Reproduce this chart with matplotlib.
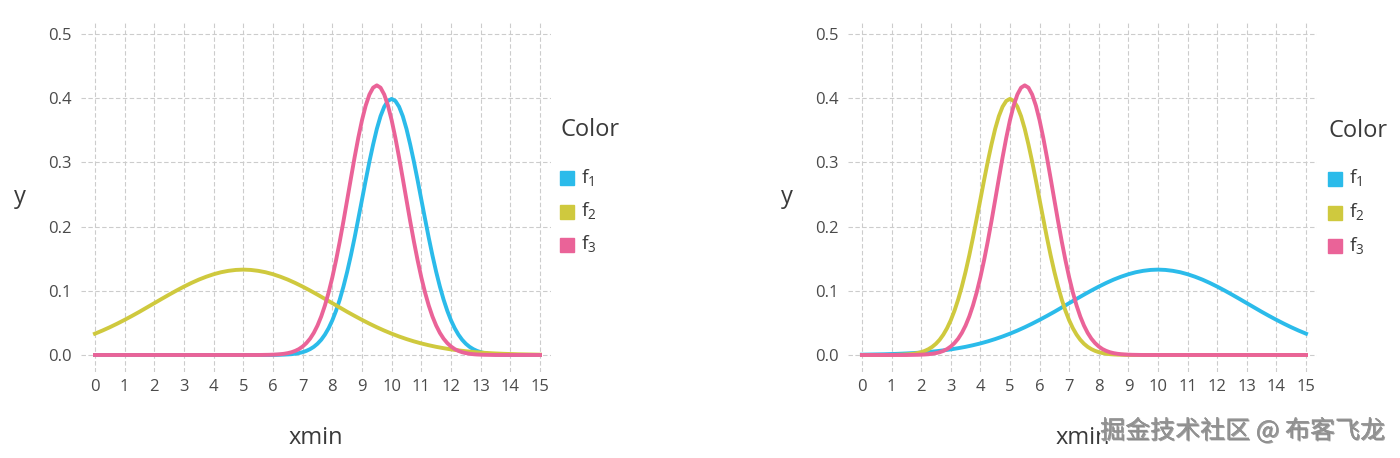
import numpy as np
import matplotlib
matplotlib.use('Agg')
import matplotlib.pyplot as plt
from matplotlib.patches import Rectangle
import matplotlib.patheffects as pe

# sample grids: coarse (0.25 step) for the wide curves, fine (0.125 step) for the narrow ones
x = np.linspace(0, 15, 61)
xf = np.linspace(0, 15, 121)

# left panel
left_f1 = [0]*48 + [.0001, .0002, .0004, .0006, .0009, .0013, .0020, .0030, .0044, .0064, .0091, .0127,
                    .0175, .0237, .0317, .0417, .0540, .0688, .0863, .1066, .1295, .1550, .1826, .2121,
                    .2420, .2721, .3011, .3278, .3521, .3720, .3867, .3958, .3989, .3958, .3867, .3720,
                    .3521, .3278, .3011, .2721, .2420, .2121, .1826, .1550, .1295, .1066, .0863, .0688,
                    .0540, .0417, .0317, .0237, .0175, .0127, .0091, .0064, .0044, .0030, .0020, .0013,
                    .0009, .0006, .0004, .0002, .0001] + [0]*8
left_f2 = [.0332, .0380, .0432, .0488, .0547, .0609, .0673, .0740, .0807, .0874, .0940, .1004, .1065, .1122,
           .1174, .1219, .1258, .1289, .1311, .1325, .1330, .1325, .1311, .1289, .1258, .1219, .1174, .1122,
           .1065, .1004, .0940, .0874, .0807, .0740, .0673, .0609, .0547, .0488, .0432, .0380, .0332, .0288,
           .0248, .0212, .0180, .0152, .0127, .0106, .0087, .0072, .0058, .0047, .0038, .0030, .0024, .0019,
           .0015, .0011, .0009, .0007, .0005]
left_f3 = [0]*45 + [.0001, .0002, .0003, .0005, .0008, .0012, .0019, .0029, .0043, .0064, .0092, .0132,
                    .0185, .0254, .0344, .0458, .0599, .0770, .0973, .1208, .1474, .1767, .2083, .2414,
                    .2748, .3076, .3383, .3657, .3885, .4057, .4164, .4200, .4164, .4057, .3885, .3657,
                    .3383, .3076, .2748, .2414, .2083, .1767, .1474, .1208, .0973, .0770, .0599, .0458,
                    .0344, .0254, .0185, .0132, .0092, .0064, .0043, .0029, .0019, .0012, .0008, .0005,
                    .0003, .0002, .0001] + [0]*13

# right panel
right_f1 = [.0005, .0007, .0009, .0011, .0015, .0019, .0024, .0030, .0038, .0047, .0058, .0072, .0087, .0106,
            .0127, .0152, .0180, .0212, .0248, .0288, .0332, .0380, .0432, .0488, .0547, .0609, .0673, .0740,
            .0807, .0874, .0940, .1004, .1065, .1122, .1174, .1219, .1258, .1289, .1311, .1325, .1330, .1325,
            .1311, .1289, .1258, .1219, .1174, .1122, .1065, .1004, .0940, .0874, .0807, .0740, .0673, .0609,
            .0547, .0488, .0432, .0380, .0332]
right_f2 = [0]*8 + [.0001, .0002, .0004, .0006, .0009, .0013, .0020, .0030, .0044, .0064, .0091, .0127,
                    .0175, .0237, .0317, .0417, .0540, .0688, .0863, .1066, .1295, .1550, .1826, .2121,
                    .2420, .2721, .3011, .3278, .3521, .3720, .3867, .3958, .3989, .3958, .3867, .3720,
                    .3521, .3278, .3011, .2721, .2420, .2121, .1826, .1550, .1295, .1066, .0863, .0688,
                    .0540, .0417, .0317, .0237, .0175, .0127, .0091, .0064, .0044, .0030, .0020, .0013,
                    .0009, .0006, .0004, .0002, .0001] + [0]*48
right_f3 = [0]*13 + [.0001, .0002, .0003, .0005, .0008, .0012, .0019, .0029, .0043, .0064, .0092, .0132,
                     .0185, .0254, .0344, .0458, .0599, .0770, .0973, .1208, .1474, .1767, .2083, .2414,
                     .2748, .3076, .3383, .3657, .3885, .4057, .4164, .4200, .4164, .4057, .3885, .3657,
                     .3383, .3076, .2748, .2414, .2083, .1767, .1474, .1208, .0973, .0770, .0599, .0458,
                     .0344, .0254, .0185, .0132, .0092, .0064, .0043, .0029, .0019, .0012, .0008, .0005,
                     .0003, .0002, .0001] + [0]*45

names = ['1', '2', '3']
colors = ['#2bbbea', '#cfc93e', '#ea6398']
xticks = list(range(16))
yticks = [0.0, 0.1, 0.2, 0.3, 0.4, 0.5]

plt.rcParams['font.family'] = ['Open Sans', 'DejaVu Sans']
plt.rcParams['mathtext.default'] = 'regular'

W, H = 1400, 458
fig = plt.figure(figsize=(14, 4.58), dpi=100)

def setup(ax):
    ax.set_xlim(-0.47, 15.37)
    ax.set_ylim(-0.0265, 0.5187)
    ax.set_xticks(xticks)
    ax.set_yticks(yticks)
    ax.set_yticklabels(['%.1f' % v for v in yticks])
    for s in ax.spines.values():
        s.set_visible(False)
    ax.tick_params(length=0, labelsize=12, labelcolor='#4a4a4a')
    ax.tick_params(axis='x', pad=5)
    ax.tick_params(axis='y', pad=7)
    ax.grid(True, color='#cccccc', lw=0.8, ls=(0, (4, 2.2)))
    ax.set_axisbelow(True)
    ax.set_xlabel('xmin', fontsize=17, color='#3a3a3a')
    ax.xaxis.set_label_coords(0.5, -0.155)
    ax.set_ylabel('y', fontsize=17, color='#3a3a3a', rotation=0, va='center')
    ax.yaxis.set_label_coords(-0.13, 0.5)

def legend(x0, y0):
    fig.text(x0 / W, 1 - y0 / H, 'Color', fontsize=17, color='#3a3a3a', va='center', ha='left')
    for i, (n, c) in enumerate(zip(names, colors)):
        yc = y0 + 48 + i * 33.5
        fig.patches.append(Rectangle(((x0 - 1) / W, 1 - (yc + 7) / H), 14 / W, 14 / H,
                                     transform=fig.transFigure, color=c, figure=fig))
        fig.text((x0 + 20) / W, 1 - (yc - 1) / H, 'f$_{%s}$' % n, fontsize=14, color='#3a3a3a',
                 va='center', ha='left')

ax1 = fig.add_axes([81 / W, 86 / H, 470 / W, 350 / H])
setup(ax1)
ax1.plot(xf, left_f1, color=colors[0], lw=2.8)
ax1.plot(x, left_f2, color=colors[1], lw=2.8)
ax1.plot(xf, left_f3, color=colors[2], lw=2.8)
legend(561, 130)

ax2 = fig.add_axes([848 / W, 86 / H, 469 / W, 350 / H])
setup(ax2)
ax2.plot(x, right_f1, color=colors[0], lw=2.8)
ax2.plot(xf, right_f2, color=colors[1], lw=2.8)
ax2.plot(xf, right_f3, color=colors[2], lw=2.8)
legend(1329, 131)

# watermark, sits over the right "xmin" as in the source image
fig.text(1385 / W, 1 - 431 / H, '掘金技术社区 @ 布客飞龙', fontsize=18, color='#939393',
         ha='right', va='center', family=['Noto Sans CJK SC', 'DejaVu Sans'],
         path_effects=[pe.withStroke(linewidth=2, foreground='white'),
                       pe.SimplePatchShadow(offset=(0.8, -0.8), shadow_rgbFace='#444444', alpha=0.5),
                       pe.Normal()])

fig.savefig('out.png', dpi=100, facecolor='white')
